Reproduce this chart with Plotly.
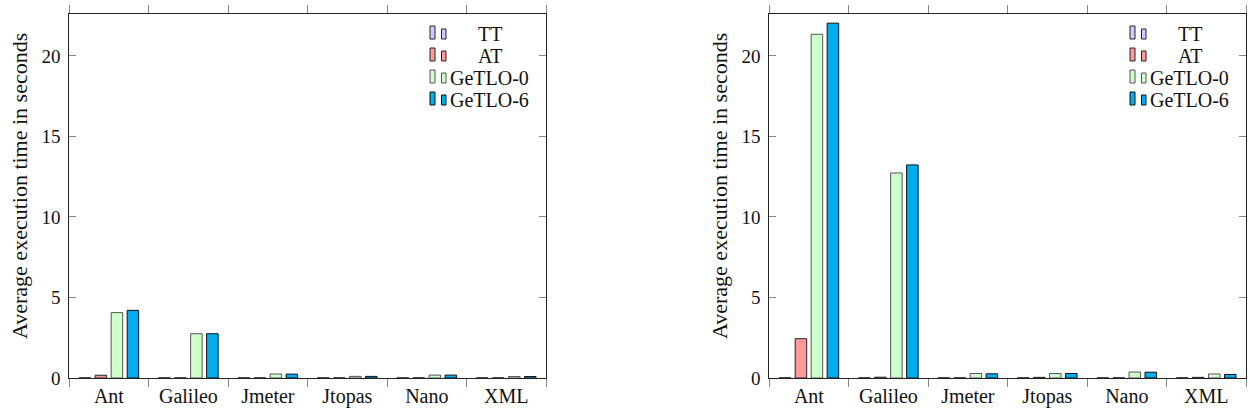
import plotly.graph_objects as go

categories = ["Ant", "Galileo", "Jmeter", "Jtopas", "Nano", "XML"]
series_names = ["TT", "AT", "GeTLO-0", "GeTLO-6"]

# Left panel values (seconds)
left_tt = [0.01, 0.01, 0.01, 0.01, 0.01, 0.01]
left_at = [0.17, 0.01, 0.01, 0.01, 0.01, 0.01]
left_g0 = [4.06, 2.75, 0.25, 0.10, 0.18, 0.09]
left_g6 = [4.20, 2.75, 0.24, 0.10, 0.18, 0.09]

# Right panel values (seconds)
right_tt = [0.01, 0.01, 0.01, 0.01, 0.01, 0.01]
right_at = [2.44, 0.05, 0.01, 0.04, 0.01, 0.04]
right_g0 = [21.34, 12.73, 0.28, 0.28, 0.37, 0.25]
right_g6 = [22.03, 13.23, 0.26, 0.28, 0.36, 0.22]

y_ticks = [0, 5, 10, 15, 20]
y_label = "Average execution time in seconds"

fills = ["#ccccff", "#ff9999", "#ccffcc", "#00adef"]
outlines = ["#222222", "#222222", "#555555", "#111111"]

FONT = "Liberation Serif"
W, H = 1250, 419
T, B = 14, 41
PLOT_H = H - T - B

fig = go.Figure()

left = [left_tt, left_at, left_g0, left_g6]
right = [right_tt, right_at, right_g0, right_g6]
for panel, (xa, ya) in ((left, ("x", "y")), (right, ("x2", "y2"))):
    for i, vals in enumerate(panel):
        fig.add_trace(go.Bar(
            x=categories, y=vals, name=series_names[i], xaxis=xa, yaxis=ya,
            marker=dict(color=fills[i], line=dict(color=outlines[i], width=1)),
            showlegend=False, hoverinfo="x+y+name"))

def xaxis_style(domain, anchor):
    return dict(domain=domain, anchor=anchor, type="category",
                range=[-0.5, 5.5], showline=True, linecolor="#222", linewidth=1,
                mirror="ticks", ticks="outside", tickson="boundaries", ticklen=8,
                tickcolor="#888", tickwidth=1, showgrid=False, zeroline=False,
                tickfont=dict(family=FONT, size=20, color="#111"), fixedrange=True)

def yaxis_style(anchor):
    return dict(domain=[0, 1], anchor=anchor, range=[0, 22.6], showline=True,
                linecolor="#222", linewidth=1, mirror="ticks", ticks="inside",
                ticklen=7, tickcolor="#888", tickwidth=1, tickvals=y_ticks,
                showgrid=False, zeroline=False, ticklabelstandoff=4,
                tickfont=dict(family=FONT, size=19, color="#111"), fixedrange=True)

L0, L1 = 69.2, 546.0
R0, R1 = 769.2, 1246.0

fig.update_layout(
    width=W, height=H, margin=dict(l=0, r=0, t=T, b=B),
    paper_bgcolor="white", plot_bgcolor="white",
    font=dict(family=FONT, color="#111"),
    barmode="group", bargap=0.195, bargroupgap=0.28,
    xaxis=xaxis_style([L0 / W, L1 / W], "y"),
    yaxis=yaxis_style("x"),
    xaxis2=xaxis_style([R0 / W, R1 / W], "y2"),
    yaxis2=yaxis_style("x2"),
)

def py(p):
    return (H - B - p) / PLOT_H

shapes, annotations = [], []
row_centers = [33, 55, 77, 99]
for offset in (0, 700):
    for i, name in enumerate(series_names):
        cy = row_centers[i]
        # two small bar icons, bottom aligned
        shapes.append(dict(type="rect", xref="paper", yref="paper",
                           x0=(430 + offset) / W, x1=(435 + offset) / W,
                           y0=py(cy + 6), y1=py(cy - 7),
                           fillcolor=fills[i], line=dict(color=outlines[i], width=1)))
        shapes.append(dict(type="rect", xref="paper", yref="paper",
                           x0=(441.5 + offset) / W, x1=(446 + offset) / W,
                           y0=py(cy + 6), y1=py(cy - 4),
                           fillcolor=fills[i], line=dict(color=outlines[i], width=1)))
        annotations.append(dict(text=name, xref="paper", yref="paper",
                                x=(489.5 + offset) / W, y=py(cy + 1),
                                showarrow=False, xanchor="center", yanchor="middle",
                                font=dict(family=FONT, size=20, color="#111")))
    annotations.append(dict(text=y_label, xref="paper", yref="paper",
                            x=(19 + offset) / W, y=py(186), textangle=-90,
                            showarrow=False, xanchor="center", yanchor="middle",
                            font=dict(family=FONT, size=22, color="#111")))

fig.update_layout(shapes=shapes, annotations=annotations)

fig.write_html("out.html")
